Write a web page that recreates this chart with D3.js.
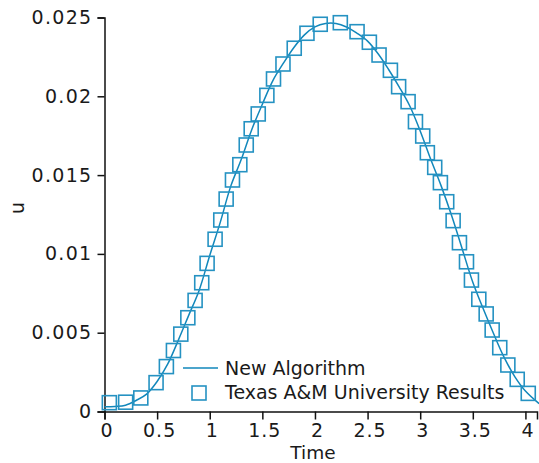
<!DOCTYPE html>
<html><head><meta charset="utf-8">
<script src="https://cdn.jsdelivr.net/npm/d3@7"></script>
<style>
html,body{margin:0;padding:0;background:#fff;}
text{font-family:"DejaVu Sans",sans-serif;fill:#1a1a1a;}
</style></head>
<body><svg id="c" width="539" height="463"></svg>
<script>
const xTicks = [0,0.5,1,1.5,2,2.5,3,3.5,4];
const yTicks = [0,0.005,0.01,0.015,0.02,0.025];
const yTickLabels = ["0","0.005","0.01","0.015","0.02","0.025"];
const seriesNames = ["New Algorithm","Texas A&M University Results"];
const lineT = [0,0.1,0.2,0.3,0.4,0.5,0.6,0.7,0.8,0.9,1.0,1.1,1.2,1.3,1.4,1.5,1.6,1.7,1.8,1.9,2.0,2.1,2.2,2.3,2.4,2.5,2.6,2.7,2.8,2.9,3.0,3.1,3.2,3.3,3.4,3.5,3.6,3.7,3.8,3.9,4.0,4.13];
const lineU = [0.0003,0.00032,0.0004,0.0007,0.0011,0.0019,0.0030,0.0045,0.0061,0.0077,0.0099,0.0120,0.0143,0.0160,0.0179,0.0195,0.0210,0.0221,0.0231,0.0239,0.0244,0.02462,0.02462,0.0244,0.0240,0.0235,0.0227,0.0217,0.0206,0.0194,0.0178,0.0160,0.0143,0.0124,0.0103,0.0082,0.0065,0.0049,0.0034,0.0022,0.0013,0.0005];
const markerT = [0.046,0.201,0.345,0.490,0.588,0.655,0.725,0.792,0.861,0.924,0.975,1.051,1.105,1.156,1.216,1.286,1.347,1.394,1.461,1.543,1.606,1.696,1.803,1.924,2.050,2.241,2.400,2.517,2.609,2.717,2.795,2.885,2.955,3.024,3.068,3.138,3.192,3.252,3.313,3.373,3.440,3.487,3.557,3.627,3.684,3.756,3.833,3.922,4.027];
const markerU = [0.00056,0.00059,0.00086,0.00183,0.00285,0.00387,0.00491,0.00595,0.00705,0.00817,0.00940,0.01093,0.01215,0.01348,0.01469,0.01566,0.01691,0.01794,0.01888,0.02006,0.02110,0.02205,0.02305,0.02400,0.02457,0.02467,0.02410,0.02343,0.02262,0.02165,0.02061,0.01966,0.01839,0.01748,0.01642,0.01549,0.01452,0.01331,0.01211,0.01071,0.00950,0.00834,0.00712,0.00619,0.00517,0.00405,0.00295,0.00204,0.00115];

const svg = d3.select("#c");
const x = d3.scaleLinear().domain([0, 4.11]).range([104.5, 537]);
const y = d3.scaleLinear().domain([0, 0.025]).range([411.5, 17.5]);
const lineColor = "#1187bb", markColor = "#2592c2";

const xAxis = d3.axisBottom(x).tickValues(xTicks).tickFormat(d3.format("")).tickSize(8).tickPadding(4);
const gx = svg.append("g").attr("transform","translate(0,411.5)").call(xAxis);
gx.selectAll("text").attr("font-size","19px").attr("letter-spacing","1px").attr("dx","2");
const yAxis = d3.axisLeft(y).tickValues(yTicks).tickFormat((d,i)=>yTickLabels[i]).tickSize(7).tickPadding(5);
const gy = svg.append("g").attr("transform","translate(104.5,0)").call(yAxis);
gy.selectAll("text").attr("font-size","19px").attr("letter-spacing","1.3px");
svg.selectAll(".domain, .tick line").attr("stroke","#111").attr("stroke-width",1.5);
svg.selectAll(".tick text").style("fill","#1a1a1a").attr("font-family","DejaVu Sans");

svg.append("text").attr("x",313).attr("y",459).attr("text-anchor","middle").attr("font-size","18.5px").text("Time");
svg.append("text").attr("transform","translate(24,208) rotate(-90)").attr("text-anchor","middle").attr("font-size","19px").text("u");

const pts = lineT.map((t,i)=>[t, lineU[i]]);
svg.append("path").datum(pts).attr("fill","none").attr("stroke",lineColor).attr("stroke-width",1.5)
  .attr("d", d3.line().x(d=>x(d[0])).y(d=>y(d[1])).curve(d3.curveCatmullRom));

const s = 14;
svg.append("g").selectAll("rect").data(markerT.map((t,i)=>[t, markerU[i]])).join("rect")
  .attr("x", d=>x(d[0])-s/2).attr("y", d=>y(d[1])-s/2).attr("width",s).attr("height",s)
  .attr("fill","none").attr("stroke",markColor).attr("stroke-width",1.6);

// legend
const lg = svg.append("g");
lg.append("line").attr("x1",183).attr("x2",218).attr("y1",368).attr("y2",368).attr("stroke",lineColor).attr("stroke-width",1.5);
lg.append("rect").attr("x",199-s/2).attr("y",393-s/2).attr("width",s).attr("height",s).attr("fill","none").attr("stroke",markColor).attr("stroke-width",1.6);
lg.append("text").attr("x",225).attr("y",375).attr("font-size","19px").text(seriesNames[0]);
lg.append("text").attr("x",225).attr("y",399).attr("font-size","19px").text(seriesNames[1]);
</script></body></html>
